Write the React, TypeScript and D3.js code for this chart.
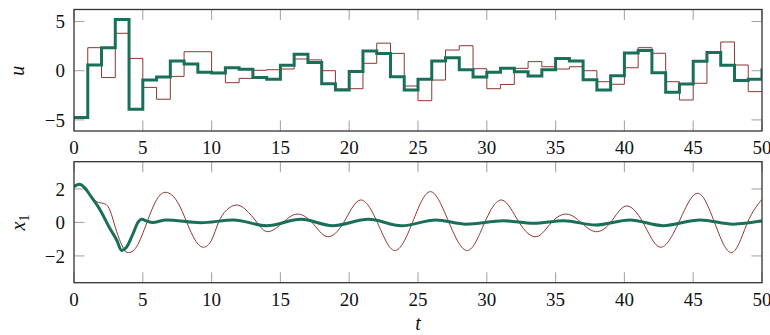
import React from 'react';
import * as d3 from 'd3';

// control input u: one value per sampling interval, t = 0..50
const uSteps = d3.range(0, 51);
const uGreen = [
  -4.75, 0.58, 2.34, 5.2, -3.93, -0.95, -0.64, 0.98, 0.68, -0.17,
  -0.23, 0.31, 0.14, -0.7, -0.88, 0.56, 1.68, 0.84, -1.32, -1.97,
  -0.07, 2.0, 1.76, -0.61, -1.97, -0.88, 0.98, 1.32, 0.1, -0.64,
  -0.17, 0.25, -0.1, -0.54, 0.1, 1.25, 0.98, -0.92, -1.96, -0.52,
  1.8, 2.05, -0.22, -2.18, -1.35, 0.95, 1.85, 0.55, -1.0, -0.88, 0.25,
];
const uRed = [
  -4.75, 2.34, -0.7, 3.8, 1.25, -1.7, -2.9, -0.58, 1.93, 1.93,
  -0.17, -1.22, -0.78, 0.04, 0.1, 0.17, 1.19, 1.1, 0.0, -1.86,
  -1.83, 0.75, 2.8, 1.76, -1.56, -3.05, -0.95, 2.1, 2.54, 0.2,
  -1.83, -1.4, 0.24, 0.92, 0.4, 0.17, 0.4, 0.0, -1.12, -1.38,
  0.3, 2.34, 1.77, -1.12, -2.98, -1.28, 1.8, 2.92, 0.58, -2.13, -2.13,
];

// state x1
const x1RedT = [
  0, 0.4, 1.0, 1.3, 1.65, 2.13, 2.6, 3.1, 3.6, 3.95, 4.55, 5.3, 6.0, 6.7, 7.5,
  8.2, 8.8, 9.4, 10.0, 10.5, 11.1, 11.8, 12.5, 13.3, 14.1, 15.2, 16.2, 17.3,
  18.4, 19.6, 20.8, 22.05, 23.3, 24.6, 25.9, 27.25, 28.6, 29.85, 31.1, 32.35,
  33.6, 34.7, 35.8, 36.85, 37.9, 39.0, 40.1, 41.35, 42.6, 43.95, 45.3, 46.55,
  47.8, 48.95, 50,
];
const x1RedV = [
  2.14, 2.28, 1.85, 1.55, 1.24, 1.14, 0.75, -0.55, -1.55, -1.8, -1.45, 0, 1.35, 1.8, 1.25,
  0, -1.05, -1.48, -1.05, 0, 0.75, 1.04, 0.75, 0, -0.55, 0, 0.5, 0,
  -0.85, 0, 1.34, 0, -1.68, 0, 1.84, 0, -1.68, 0, 1.34, 0,
  -0.85, 0, 0.5, 0, -0.55, 0, 0.98, 0, -1.48, 0, 1.74, 0,
  -1.8, 0, 1.38,
];
const x1GreenT = [
  0, 0.4, 0.8, 1.16, 1.9, 2.6, 3.1, 3.46, 3.8, 4.3, 4.68, 4.92, 5.3, 5.7, 6.7,
  9.2, 11.6, 14.0, 16.5, 18.8, 21.4, 23.8, 26.3, 28.5, 31.2, 33.4, 35.6, 37.9,
  40.4, 42.8, 45.5, 47.9, 50,
];
const x1GreenV = [
  2.14, 2.28, 2.05, 1.64, 0.75, -0.35, -1.05, -1.68, -1.5, -0.65, 0.05, 0.19, 0.08, 0.0, 0.15,
  -0.02, 0.15, -0.2, 0.19, -0.19, 0.19, -0.2, 0.15, -0.1, 0.1, -0.05, 0.1, -0.15,
  0.15, -0.19, 0.15, -0.1, 0.1,
];

const xTicks = [0, 5, 10, 15, 20, 25, 30, 35, 40, 45, 50];
const uTicks = [-5, 0, 5];
const x1Ticks = [-2, 0, 2];

const GREEN = '#1a6f58';
const RED = '#8e3532';
const FONT = 'Liberation Serif, DejaVu Serif, serif';
const fmt = (v: number) => (v < 0 ? '\u2212' + Math.abs(v) : String(v));

const W = 770;
const H = 335;
const left = 74;
const right = 762;
const tickLen = 10.5;

type Panel = {
  top: number;
  bottom: number;
  y: d3.ScaleLinear<number, number>;
  yTicks: number[];
};

const x = d3.scaleLinear().domain([0, 50]).range([left, right]);

const Frame = ({ p }: { p: Panel }) => (
  <g>
    {xTicks.map((t) => (
      <g key={'x' + t} stroke="#a8a8a8" strokeWidth={1.1}>
        <line x1={x(t)} x2={x(t)} y1={p.bottom} y2={p.bottom - tickLen} />
        <line x1={x(t)} x2={x(t)} y1={p.top} y2={p.top + tickLen} />
      </g>
    ))}
    {p.yTicks.map((v) => (
      <g key={'y' + v} stroke="#a8a8a8" strokeWidth={1.1}>
        <line x1={left} x2={left + tickLen} y1={p.y(v)} y2={p.y(v)} />
        <line x1={right} x2={right - tickLen} y1={p.y(v)} y2={p.y(v)} />
      </g>
    ))}
    {xTicks.map((t) => (
      <text key={'xl' + t} x={x(t)} y={p.bottom + 23} textAnchor="middle" fontSize={19} fontFamily={FONT} fill="#111">
        {t}
      </text>
    ))}
    {p.yTicks.map((v) => (
      <text key={'yl' + v} x={65} y={p.y(v) + 6.8} textAnchor="end" fontSize={19} fontFamily={FONT} fill="#111">
        {fmt(v)}
      </text>
    ))}
  </g>
);

const Border = ({ p }: { p: Panel }) => (
  <rect x={left} y={p.top} width={right - left} height={p.bottom - p.top} fill="none" stroke="#333" strokeWidth={1.3} />
);

export default function App() {
  const pu: Panel = {
    top: 9.5,
    bottom: 131,
    y: d3.scaleLinear().domain([-6.13, 6.22]).range([131, 9.5]),
    yTicks: uTicks,
  };
  const px: Panel = {
    top: 161.7,
    bottom: 282.7,
    y: d3.scaleLinear().domain([-3.6, 3.63]).range([282.7, 161.7]),
    yTicks: x1Ticks,
  };

  const stepLine = d3
    .line<number>()
    .x((_, i) => x(uSteps[i]))
    .y((d) => pu.y(d))
    .curve(d3.curveStepAfter);

  const redX1 = d3
    .line<number>()
    .x((_, i) => x(x1RedT[i]))
    .y((d) => px.y(d))
    .curve(d3.curveNatural);

  const greenX1 = d3
    .line<number>()
    .x((_, i) => x(x1GreenT[i]))
    .y((d) => px.y(d))
    .curve(d3.curveMonotoneX);

  return (
    <svg
      width={W}
      height={H}
      style={{ position: 'absolute', left: 0, top: 0, background: '#fff' }}
    >
      <defs>
        <clipPath id="clip-u">
          <rect x={left} y={pu.top} width={right - left} height={pu.bottom - pu.top} />
        </clipPath>
        <clipPath id="clip-x1">
          <rect x={left} y={px.top} width={right - left} height={px.bottom - px.top} />
        </clipPath>
      </defs>

      <Frame p={pu} />
      <g clipPath="url(#clip-u)">
        <path d={stepLine(uRed) || ''} fill="none" stroke={RED} strokeWidth={1} />
        <path d={stepLine(uGreen) || ''} fill="none" stroke={GREEN} strokeWidth={3} strokeLinejoin="miter" />
      </g>
      <Border p={pu} />

      <Frame p={px} />
      <g clipPath="url(#clip-x1)">
        <path d={redX1(x1RedV) || ''} fill="none" stroke={RED} strokeWidth={1} />
        <path d={greenX1(x1GreenV) || ''} fill="none" stroke={GREEN} strokeWidth={3} strokeLinejoin="round" />
      </g>
      <Border p={px} />

      <text
        transform={`translate(24,${pu.y(0)}) rotate(-90)`}
        textAnchor="middle"
        fontSize={20}
        fontStyle="italic"
        fontFamily={FONT}
        fill="#111"
      >
        u
      </text>
      <text
        transform={`translate(25,${px.y(0)}) rotate(-90)`}
        textAnchor="middle"
        fontSize={20}
        fontStyle="italic"
        fontFamily={FONT}
        fill="#111"
      >
        x
        <tspan fontStyle="normal" fontSize={14} dy={4}>
          1
        </tspan>
      </text>
      <text x={(left + right) / 2} y={330} textAnchor="middle" fontSize={20} fontStyle="italic" fontFamily={FONT} fill="#111">
        t
      </text>
    </svg>
  );
}
